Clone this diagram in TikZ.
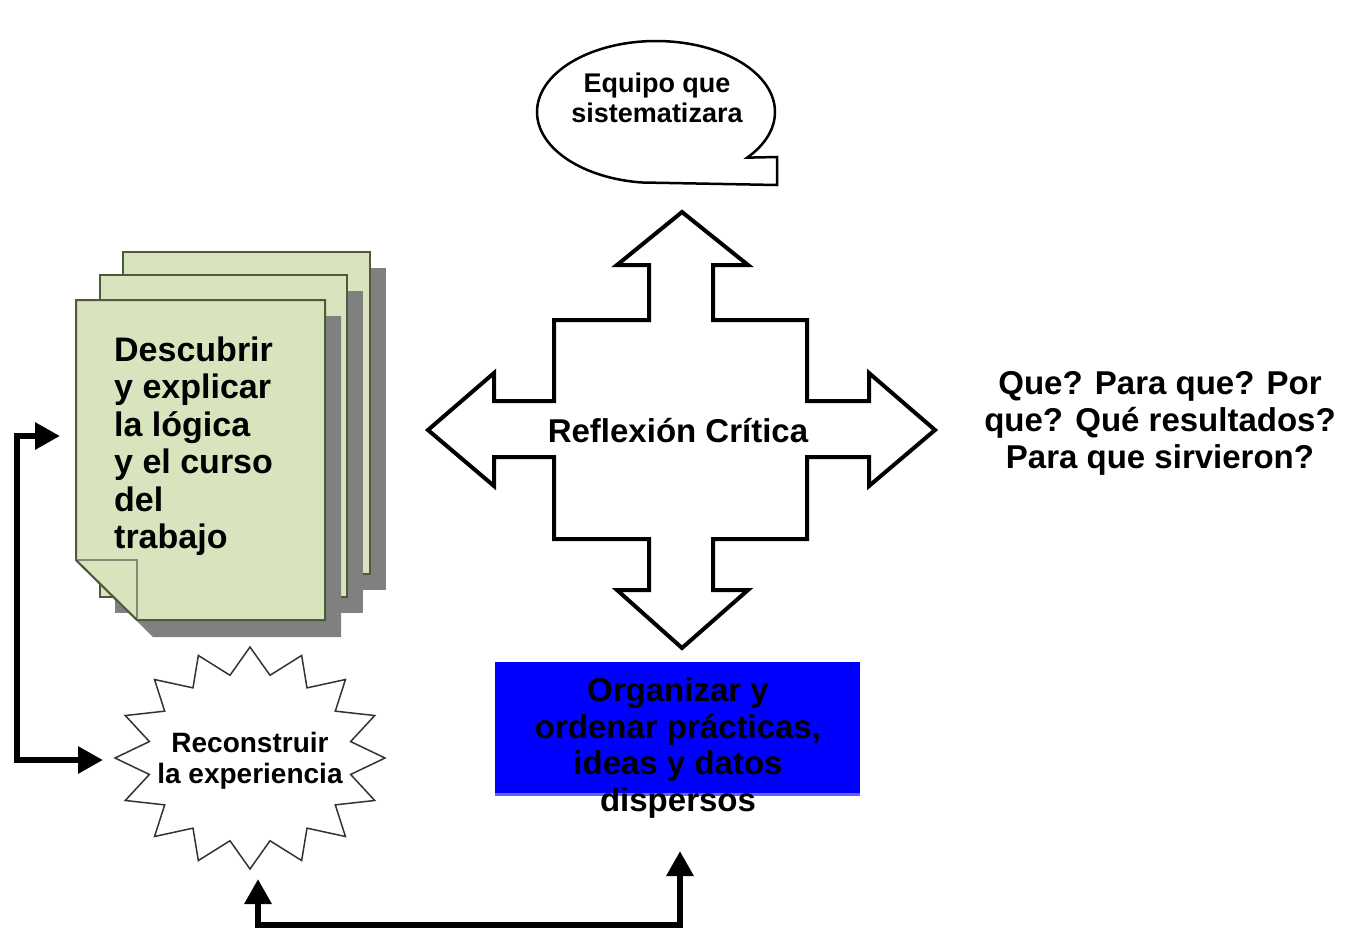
\documentclass[tikz,border=0pt]{standalone}
\usepackage{fontspec}
\setmainfont{Liberation Sans}
\usetikzlibrary{arrows.meta}
\definecolor{pagegreen}{HTML}{D7E4BD}
\definecolor{pageedge}{HTML}{4F5A3A}
\definecolor{shadowgray}{HTML}{808080}
\definecolor{boxblue}{HTML}{0000FF}
\definecolor{boxedge}{HTML}{6060FF}
\tikzset{
  pagestyle/.style={fill=pagegreen, draw=pageedge, line width=2pt, line join=miter},
  shadowstyle/.style={fill=shadowgray},
  crossline/.style={draw=black, line width=4pt, fill=white, line join=miter},
  conn/.style={line width=6pt, line join=miter, {Triangle[length=25pt,width=26pt]}-{Triangle[length=25pt,width=26pt]}},
  lbl/.style={inner sep=0pt, text=black}
}
\begin{document}
\begin{tikzpicture}[x=1pt,y=-1pt]
\useasboundingbox[fill=white] (0,0) rectangle (1352,930);

% ---- speech bubble ----
\draw[line width=2.5pt, fill=white, line join=miter]
  plot[domain=97:400, samples=120, variable=\t] ({656+119*cos(\t)},{112+71*sin(\t)})
  -- (777,157) -- (777,185) -- cycle;
\node[lbl, align=center, font=\fontsize{27}{30}\selectfont\bfseries] (equipo) at (657,98)
  {Equipo que\\sistematizara};

% ---- stacked pages ----
\fill[shadowstyle] (138,268) rectangle (386,590);
\draw[pagestyle] (123,252) rectangle (370,574);
\fill[shadowstyle] (115,291) rectangle (363,613);
\draw[pagestyle] (100,275) rectangle (347,597);
\fill[shadowstyle] (92,316) -- (341,316) -- (341,637) -- (153,637) -- (92,576) -- cycle;
\draw[pagestyle] (76,300) -- (325,300) -- (325,620) -- (137,620) -- (76,560) -- cycle;
\draw[pageedge!70, line width=1.5pt, fill=pagegreen] (76,560) -- (137,560) -- (137,620);
\draw[pageedge, line width=2pt] (76,560) -- (137,620);
\node[lbl, anchor=west, align=left, font=\fontsize{34}{37.5}\selectfont\bfseries] (docs) at (114,446)
  {Descubrir\\y explicar\\la lógica\\y el curso\\del\\trabajo};

% ---- cross arrow ----
\draw[crossline] (682,212) -- (748,265) -- (713,265) -- (713,320) -- (807,320) -- (807,401)
  -- (869,401) -- (869,373) -- (935,430) -- (869,486) -- (869,457) -- (807,457)
  -- (807,539) -- (713,539) -- (713,590) -- (748,590) -- (682,648) -- (617,590)
  -- (649,590) -- (649,539) -- (554,539) -- (554,457) -- (494,457) -- (494,486)
  -- (428,430) -- (494,373) -- (494,401) -- (554,401) -- (554,320) -- (649,320)
  -- (649,265) -- (617,265) -- cycle;
\node[lbl, font=\fontsize{33}{36}\selectfont\bfseries] (cross) at (678,431) {Reflexión Crítica};

% ---- questions ----
\node[lbl, align=center, font=\fontsize{33}{37}\selectfont\bfseries] (questions) at (1160,423)
  {Que? Para que? Por\\que? Qué resultados?\\Para que sirvieron?};

% ---- star ----
\draw[line width=1.5pt, draw=black!80, fill=white, line join=miter]
  (250,647) \foreach \k in {1,...,31} {
    -- ({250+135*(1-0.24*mod(\k,2))*cos(-90+11.25*\k)},{758+111*(1-0.24*mod(\k,2))*sin(-90+11.25*\k)})
  } -- cycle;
\node[lbl, align=center, font=\fontsize{28}{31}\selectfont\bfseries] (star) at (250,761)
  {Reconstruir\\la experiencia};

% ---- blue box ----
\node[fill=boxblue, inner sep=0pt, minimum width=365pt, minimum height=134pt] (orgbox) at (677.5,729) {};
\draw[boxedge, line width=3pt] ([yshift=1.5pt]orgbox.south west) -- ([yshift=1.5pt]orgbox.south east);
\node[lbl, align=center, font=\fontsize{33}{36.8}\selectfont\bfseries] (orgtext) at (678,748)
  {Organizar y\\ordenar prácticas,\\ideas y datos\\dispersos};

% ---- connectors ----
\coordinate (docin) at (60,436);
\coordinate (starin) at (103,760);
\coordinate (lrail) at (17,600);
\draw[conn] (docin) -| (lrail) |- (starin);

\coordinate (starbot) at (258,879);
\coordinate (boxbot) at (680,851);
\coordinate (brail) at (470,925);
\draw[conn] (starbot) |- (brail) -| (boxbot);
\end{tikzpicture}
\end{document}
